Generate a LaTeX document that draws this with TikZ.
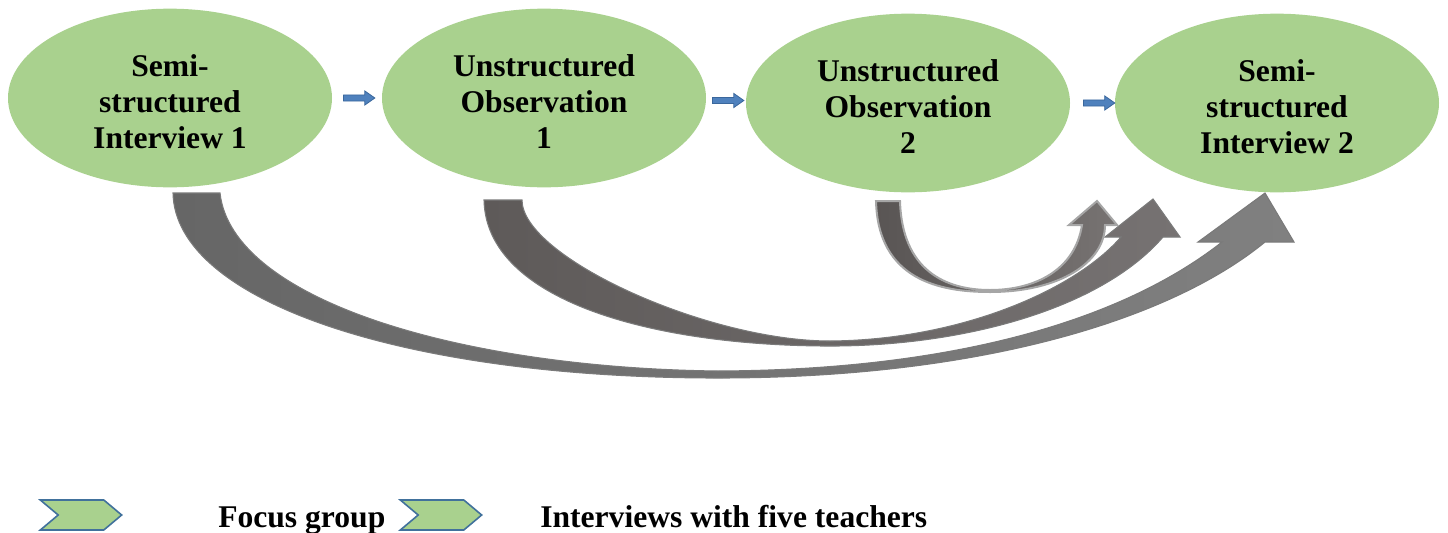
\documentclass[tikz,border=0pt]{standalone}
\usepackage{fontspec}
\setmainfont{Liberation Serif}
\usetikzlibrary{shapes.geometric,shapes.arrows,shapes.symbols}

\definecolor{stagegreen}{HTML}{A9D18E}
\definecolor{flowblue}{HTML}{4F81BD}
\definecolor{flowedge}{HTML}{3A679C}
\definecolor{legendedge}{HTML}{41719C}
\definecolor{bandAtail}{HTML}{666666}
\definecolor{bandAhead}{HTML}{808080}
\definecolor{bandBtail}{HTML}{5E5A59}
\definecolor{bandBhead}{HTML}{767272}
\definecolor{bandCtail}{HTML}{595554}
\definecolor{bandChead}{HTML}{777372}
\definecolor{bandedge}{HTML}{7A7A7A}
\definecolor{bandCedge}{HTML}{A6A6A6}

% pushes the three lines of a stage a little lower
\newcommand{\stagetop}{\rule{0pt}{22pt}}

\tikzset{
  stage/.style={ellipse, fill=stagegreen, minimum width=243pt, minimum height=134pt, inner sep=0pt, align=center, font=\bfseries\fontsize{23.7}{27}\selectfont},
  flowarrow/.style={single arrow, fill=flowblue, draw=flowedge, line width=0.6pt, minimum height=23.5pt, inner sep=2pt, single arrow head extend=3pt, single arrow tip angle=70},
  legendmark/.style={signal, signal to=east, signal from=west, fill=stagegreen, draw=legendedge, line width=1.2pt, minimum width=61pt, minimum height=22.5pt, inner sep=0pt, signal pointer angle=80},
  legendtext/.style={anchor=base west, inner sep=0pt, font=\bfseries\fontsize{23.7}{27}\selectfont},
  loopband/.style={line width=0.8pt, draw=bandedge}
}

\begin{document}
\begin{tikzpicture}[x=0.75pt,y=0.75pt,yscale=-1,xscale=1]
        \useasboundingbox (0,0) rectangle (1448,532);

        % curved arrows
        \draw[loopband, left color=bandAtail, right color=bandAhead]
          (173,193) .. controls (175,300) and (400,378) .. (718,378)
          .. controls (980,378) and (1170,320) .. (1265,242)
          -- (1294,242) -- (1265,193) -- (1198,242) -- (1222,242)
          .. controls (1120,322) and (950,370) .. (718,371)
          .. controls (460,368) and (232,300) .. (220,193) -- cycle;
        \draw[loopband, left color=bandBtail, right color=bandBhead]
          (484,200) .. controls (486,300) and (650,345) .. (825,346)
          .. controls (960,347) and (1100,310) .. (1163,237)
          -- (1180,237) -- (1153,199) -- (1105,237) -- (1121,237)
          .. controls (1075,290) and (960,340) .. (830,341)
          .. controls (707,341) and (522,257) .. (522,200) -- cycle;
        \draw[loopband, draw=bandCedge, line width=1.5pt, left color=bandCtail, right color=bandChead]
          (876,201) .. controls (878,280) and (940,292) .. (990,292)
          .. controls (1060,292) and (1105,262) .. (1105,225)
          -- (1117,225) -- (1097,201) -- (1069,225) -- (1082,225)
          .. controls (1075,270) and (1035,290) .. (990,290)
          .. controls (945,290) and (902,270) .. (900,201) -- cycle;

        % stages
        \node[stage] (si1) at (170,98) {\stagetop Semi-\\structured\\Interview 1};
        \node[stage] (uo1) at (544,98) {\stagetop Unstructured\\Observation\\1};
        \node[stage] (uo2) at (908,103) {\stagetop Unstructured\\Observation\\2};
        \node[stage] (si2) at (1277,103) {\stagetop Semi-\\structured\\Interview 2};

        \path (si1) -- (uo1) node[midway, flowarrow] {};
        \path (uo1) -- (uo2) node[midway, flowarrow] {};
        \path (uo2) -- (si2) node[pos=0.6, flowarrow] {};

        % legend
        \node[legendmark] (fgmark) at (81,515) {};
        \node[legendtext] (fgtext) at (218,527) {Focus group};
        \node[legendmark] (iwmark) at (441,515) {};
        \node[legendtext] (iwtext) at (540,527) {Interviews with five teachers};
\end{tikzpicture}
\end{document}
